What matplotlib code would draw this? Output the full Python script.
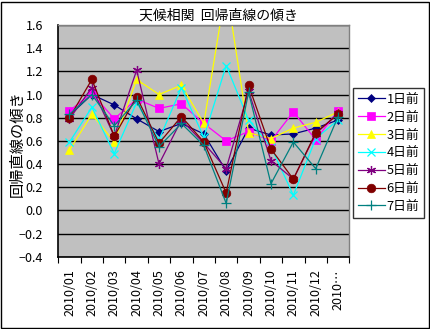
import matplotlib
matplotlib.use("Agg")
import matplotlib.pyplot as plt
from matplotlib.patches import Rectangle
import numpy as np

plt.rcParams['font.family'] = ['Noto Sans CJK JP', 'DejaVu Sans']

categories = ["2010/01", "2010/02", "2010/03", "2010/04", "2010/05", "2010/06",
              "2010/07", "2010/08", "2010/09", "2010/10", "2010/11", "2010/12", "2010…"]

s1 = [0.82, 1.00, 0.91, 0.79, 0.68, 0.75, 0.66, 0.34, 0.71, 0.65, 0.66, 0.71, 0.78]
s2 = [0.86, 1.01, 0.79, 0.96, 0.88, 0.92, 0.75, 0.60, 0.68, 0.60, 0.85, 0.61, 0.86]
s3 = [0.52, 0.83, 0.59, 1.13, 1.00, 1.08, 0.75, 1.93, 0.67, 0.62, 0.71, 0.76, 0.85]
s4 = [0.59, 0.89, 0.49, 0.93, 0.61, 1.06, 0.63, 1.25, 0.78, 0.55, 0.13, 0.62, 0.78]
s5 = [0.79, 1.06, 0.64, 1.21, 0.40, 0.78, 0.58, 0.36, 1.03, 0.43, 0.27, 0.66, 0.84]
s6 = [0.80, 1.13, 0.64, 0.98, 0.58, 0.81, 0.59, 0.15, 1.08, 0.53, 0.27, 0.67, 0.83]
s7 = [0.83, 1.00, 0.73, 0.95, 0.55, 0.75, 0.56, 0.06, 1.02, 0.23, 0.59, 0.36, 0.81]

series_names = ["1日前", "2日前", "3日前", "4日前", "5日前", "6日前", "7日前"]
series_values = [s1, s2, s3, s4, s5, s6, s7]
y_ticks = [-0.4, -0.2, 0.0, 0.2, 0.4, 0.6, 0.8, 1.0, 1.2, 1.4, 1.6]

colors = ["#000080", "#ff00ff", "#ffff00", "#00ffff", "#800080", "#800000", "#008080"]
markers = ["D", "s", "^", "x", (6, 2, 0), "o", "+"]
msizes = [4.2, 6, 6, 5.5, 6.5, 6.2, 7.5]

fig = plt.figure(figsize=(4.31, 3.29), dpi=100)
fig.patch.set_facecolor("white")
fig.patches.append(Rectangle((1.5/431, 1.5/329), 1 - 3/431, 1 - 3/329, transform=fig.transFigure,
                             fill=False, edgecolor="black", linewidth=1.0))

ax = fig.add_axes([58.3/431, 72.3/329, 291/431, 231.7/329])
ax.set_facecolor("#c0c0c0")

x = np.arange(len(categories))
for name, vals, c, m, ms in zip(series_names, series_values, colors, markers, msizes):
    mew = 0.9 if m in ("x", "+") or isinstance(m, tuple) else 0.5
    ax.plot(x, vals, color=c, linewidth=0.9, marker=m, markersize=ms,
            markerfacecolor=c, markeredgecolor=c, markeredgewidth=mew, label=name)

ax.set_xlim(-0.5, len(categories) - 0.5)
ax.set_ylim(-0.4, 1.6)
ax.set_yticks(y_ticks)
ax.set_yticklabels([f"{v:.1f}".replace("-", "\u2212") for v in y_ticks], fontsize=9)
ax.yaxis.grid(True, color="black", linewidth=1.0)
ax.set_axisbelow(True)

ax.set_xticks(x)
ax.set_xticklabels(categories, rotation=90, fontsize=9, va="top")
ax.set_xticks(np.arange(-0.5, len(categories), 1.0), minor=True)
ax.tick_params(axis="x", which="major", length=0, pad=9)
ax.tick_params(axis="x", which="minor", length=4, direction="out", width=0.8)
ax.tick_params(axis="y", which="major", length=0, pad=11)

for s in ("top", "right"):
    ax.spines[s].set_color("#808080")
    ax.spines[s].set_linewidth(1.0)
for s in ("left", "bottom"):
    ax.spines[s].set_color("black")
    ax.spines[s].set_linewidth(1.2)

fig.text(218/431, 1 - 16/329, "天候相関  回帰直線の傾き", ha="center", va="center", fontsize=10)
fig.text(17/431, 1 - 144/329, "回帰直線の傾き", ha="center", va="center", rotation=90, fontsize=11)

leg = ax.legend(loc="upper left", bbox_to_anchor=(352.7/431, 1 - 87.7/329),
                bbox_transform=fig.transFigure, fontsize=9.2, frameon=True, fancybox=False,
                borderaxespad=0, borderpad=0.4, handlelength=2.1, handletextpad=0.15,
                labelspacing=0.38)
leg.get_frame().set_edgecolor("black")
leg.get_frame().set_linewidth(1.0)
leg.get_frame().set_facecolor("white")

fig.savefig("out.png", dpi=100)
